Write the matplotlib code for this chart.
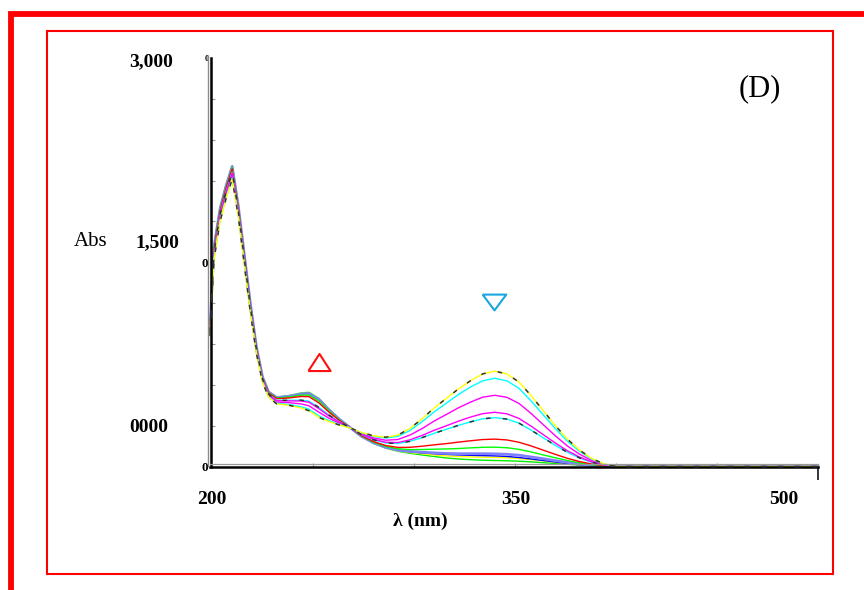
import matplotlib
matplotlib.use("Agg")
import matplotlib.pyplot as plt
from matplotlib.lines import Line2D
from matplotlib.patches import Rectangle
from matplotlib.ticker import FixedLocator

plt.rcParams['font.family'] = ['Liberation Serif', 'DejaVu Serif']

wl = [199, 200, 201, 204, 207, 210, 213, 216, 219, 222, 225, 228,
      232, 238, 244, 248, 253, 258, 263, 268, 274, 280, 286, 292,
      298, 304, 310, 316, 322, 328, 334, 340, 346, 352, 358, 364,
      370, 376, 382, 388, 394, 400, 500]

yellow_1 = [0.96, 1.25, 1.52, 1.80, 1.97, 2.11, 1.84, 1.48, 1.13, 0.83, 0.62, 0.51,
            0.46, 0.45, 0.43, 0.41, 0.36, 0.33, 0.305, 0.285, 0.25, 0.225, 0.215, 0.23,
            0.28, 0.35, 0.43, 0.50, 0.57, 0.63, 0.68, 0.70, 0.68, 0.62, 0.52, 0.41,
            0.30, 0.20, 0.12, 0.058, 0.02, 0.0, 0.0]
cyan_1 = [0.965, 1.256, 1.528, 1.808, 1.978, 2.118, 1.846, 1.486, 1.136, 0.834, 0.623, 0.513,
          0.464, 0.456, 0.439, 0.421, 0.371, 0.337, 0.309, 0.285, 0.248, 0.221, 0.209, 0.221,
          0.265, 0.329, 0.401, 0.465, 0.529, 0.584, 0.629, 0.648, 0.629, 0.574, 0.481, 0.379,
          0.278, 0.185, 0.111, 0.054, 0.019, 0.0, 0.0]
magenta_1 = [0.976, 1.272, 1.547, 1.827, 1.997, 2.137, 1.862, 1.502, 1.149, 0.843, 0.631, 0.521,
             0.473, 0.469, 0.46, 0.446, 0.398, 0.354, 0.317, 0.286, 0.242, 0.21, 0.193, 0.198,
             0.231, 0.278, 0.334, 0.382, 0.431, 0.473, 0.509, 0.523, 0.508, 0.463, 0.389, 0.307,
             0.225, 0.15, 0.09, 0.044, 0.015, 0.0, 0.0]
magenta_2 = [0.988, 1.287, 1.566, 1.846, 2.016, 2.156, 1.877, 1.517, 1.162, 0.853, 0.638, 0.528,
             0.483, 0.482, 0.481, 0.472, 0.424, 0.371, 0.326, 0.287, 0.236, 0.2, 0.178, 0.176,
             0.196, 0.228, 0.266, 0.299, 0.333, 0.363, 0.388, 0.398, 0.387, 0.353, 0.296, 0.234,
             0.172, 0.115, 0.069, 0.034, 0.012, 0.0, 0.0]
cyan_2 = [0.991, 1.292, 1.572, 1.852, 2.022, 2.162, 1.882, 1.522, 1.166, 0.856, 0.641, 0.531,
          0.486, 0.486, 0.487, 0.48, 0.433, 0.377, 0.328, 0.288, 0.234, 0.196, 0.173, 0.169,
          0.185, 0.212, 0.244, 0.273, 0.302, 0.328, 0.35, 0.359, 0.348, 0.318, 0.267, 0.211,
          0.155, 0.104, 0.063, 0.03, 0.011, 0.0, 0.0]
red = [1.006, 1.311, 1.596, 1.876, 2.046, 2.186, 1.901, 1.541, 1.183, 0.868, 0.65, 0.54,
       0.498, 0.503, 0.514, 0.513, 0.466, 0.398, 0.339, 0.289, 0.227, 0.183, 0.154, 0.14,
       0.141, 0.149, 0.159, 0.168, 0.179, 0.189, 0.198, 0.201, 0.195, 0.178, 0.151, 0.12,
       0.089, 0.06, 0.036, 0.018, 0.006, 0.0, 0.0]
green_1 = [1.011, 1.318, 1.605, 1.885, 2.055, 2.195, 1.908, 1.548, 1.19, 0.873, 0.654, 0.544,
           0.503, 0.51, 0.524, 0.525, 0.479, 0.407, 0.343, 0.289, 0.225, 0.178, 0.147, 0.13,
           0.124, 0.125, 0.127, 0.129, 0.132, 0.137, 0.141, 0.142, 0.138, 0.126, 0.107, 0.085,
           0.064, 0.044, 0.027, 0.013, 0.005, 0.0, 0.0]
lavender = [1.015, 1.324, 1.612, 1.892, 2.062, 2.202, 1.914, 1.554, 1.195, 0.876, 0.657, 0.547,
            0.506, 0.515, 0.532, 0.535, 0.49, 0.413, 0.347, 0.29, 0.222, 0.174, 0.141, 0.121,
            0.111, 0.105, 0.1, 0.096, 0.094, 0.094, 0.094, 0.093, 0.09, 0.083, 0.07, 0.057,
            0.043, 0.03, 0.018, 0.009, 0.003, 0.0, 0.0]
blue = [1.017, 1.326, 1.615, 1.895, 2.065, 2.205, 1.916, 1.556, 1.196, 0.877, 0.658, 0.548,
        0.507, 0.516, 0.534, 0.538, 0.492, 0.415, 0.348, 0.29, 0.222, 0.173, 0.14, 0.12,
        0.108, 0.1, 0.094, 0.089, 0.085, 0.082, 0.08, 0.078, 0.074, 0.066, 0.055, 0.044,
        0.033, 0.022, 0.013, 0.006, 0.002, 0.0, 0.0]
yellow_2 = [1.018, 1.327, 1.617, 1.897, 2.067, 2.207, 1.917, 1.557, 1.198, 0.878, 0.659, 0.549,
            0.508, 0.518, 0.536, 0.54, 0.495, 0.417, 0.348, 0.29, 0.221, 0.172, 0.138, 0.116,
            0.103, 0.094, 0.085, 0.078, 0.073, 0.07, 0.068, 0.067, 0.064, 0.059, 0.051, 0.041,
            0.032, 0.022, 0.014, 0.007, 0.003, 0.0, 0.0]
green_2 = [1.02, 1.33, 1.62, 1.90, 2.07, 2.21, 1.92, 1.56, 1.20, 0.88, 0.66, 0.55,
           0.51, 0.52, 0.54, 0.545, 0.50, 0.42, 0.35, 0.29, 0.22, 0.17, 0.135, 0.112,
           0.097, 0.085, 0.073, 0.063, 0.055, 0.05, 0.046, 0.044, 0.042, 0.039, 0.034, 0.028,
           0.022, 0.016, 0.010, 0.005, 0.002, 0.0, 0.0]

spectra = [
    (green_2, '#00ee00', 1.0),
    (yellow_2, '#ffff00', 1.0),
    (blue, '#0000ff', 1.0),
    (lavender, '#8080ff', 2.0),
    (green_1, '#00ff00', 1.0),
    (red, '#ff0000', 1.0),
    (cyan_2, '#00ffff', 1.0),
    (magenta_2, '#ff00ff', 1.0),
    (magenta_1, '#ff00ff', 1.0),
    (cyan_1, '#00ffff', 1.0),
    (yellow_1, '#ffff00', 1.0),
]
dashed = [yellow_1, cyan_2]

# direction arrows (triangles): wavelength, absorbance
up_wl, up_abs = 253, 0.77
down_wl, down_abs = 339.6, 1.21

W, H = 864, 590
fig = plt.figure(figsize=(W / 100, H / 100), dpi=100)
fig.patch.set_facecolor('white')


def fx(px):
    return px / W


def fy(py):
    return 1 - py / H


ax = fig.add_axes([fx(210.5), fy(466.5), (818 - 210.5) / W, (466.5 - 58) / H])
ax.set_xlim(199.26, 500)
ax.set_ylim(0, 3.0)

for vals, col, lw in spectra:
    ax.plot(wl, vals, color=col, lw=lw, clip_on=False, zorder=2)
for vals in dashed:
    ax.plot(wl, vals, color='#333333', lw=1.1, ls=(0, (3, 8)), clip_on=False, zorder=3)

tri_up = [(-1, -0.77), (1, -0.77), (0, 0.77), (-1, -0.77)]
tri_down = [(-1, 0.67), (1, 0.67), (0, -0.67), (-1, 0.67)]
ax.plot([up_wl], [up_abs], marker=tri_up, ms=16, mfc='none', mec='#ff1010', mew=1.5)
ax.plot([down_wl], [down_abs], marker=tri_down, ms=17, mfc='none', mec='#1aa6e0', mew=1.5)

for s in ['top', 'right']:
    ax.spines[s].set_visible(False)
ax.spines['left'].set_linewidth(1.8)
ax.spines['bottom'].set_linewidth(1.8)

ax.set_xticks([500])
ax.set_xticklabels([''])
ax.tick_params(axis='x', which='major', direction='out', length=9, width=1.1)
ax.xaxis.set_minor_locator(FixedLocator([250, 300, 350, 400, 450]))
ax.tick_params(axis='x', which='minor', direction='in', length=3, width=0.8, color='0.6')

ax.set_yticks([0, 1.5, 3.0])
ax.set_yticklabels(['0', '0', '0'], fontsize=9.5, fontweight='bold')
ax.get_yticklabels()[2].set_fontsize(6)
ax.tick_params(axis='y', which='major', length=0, pad=1.5)
ax.yaxis.set_minor_locator(FixedLocator([0.3, 0.6, 0.9, 1.2, 1.8, 2.1, 2.4, 2.7]))
ax.tick_params(axis='y', which='minor', direction='in', length=3, width=0.8, color='0.6')

# grey companion lines of the axes
fig.add_artist(Line2D([fx(207.5), fx(207.5)], [fy(56), fy(466)], transform=fig.transFigure,
                      color='0.55', lw=1.0))
fig.add_artist(Line2D([fx(210), fx(818)], [fy(464.3), fy(464.3)], transform=fig.transFigure,
                      color='0.6', lw=0.9))

# text labels
bold = dict(fontweight='bold', ha='center', va='center')
fig.text(fx(151), fy(62), '3,000', fontsize=14, **bold)
fig.text(fx(157), fy(243), '1,500', fontsize=14, **bold)
fig.text(fx(149), fy(428), '0000', fontsize=14, **bold)
fig.text(fx(91), fy(242), 'Abs', fontsize=15, ha='center', va='center')
fig.text(fx(212), fy(500), '200', fontsize=14, **bold)
fig.text(fx(516), fy(500), '350', fontsize=14, **bold)
fig.text(fx(784), fy(500), '500', fontsize=14, **bold)
fig.text(fx(420), fy(521), 'λ (nm)', fontsize=14, **bold)
fig.text(fx(760), fy(89), '(D)', fontsize=22, ha='center', va='center')

# red frames
fig.add_artist(Line2D([fx(870), fx(11), fx(11)], [fy(14), fy(14), fy(600)],
                      transform=fig.transFigure, color='#ff0000', lw=4.2,
                      solid_joinstyle='miter'))
fig.add_artist(Rectangle((fx(47), fy(573.5)), (832.5 - 47) / W, (573.5 - 30.5) / H,
                         transform=fig.transFigure, fill=False, ec='#ff0000', lw=1.5))

fig.savefig('out.png', dpi=100)
